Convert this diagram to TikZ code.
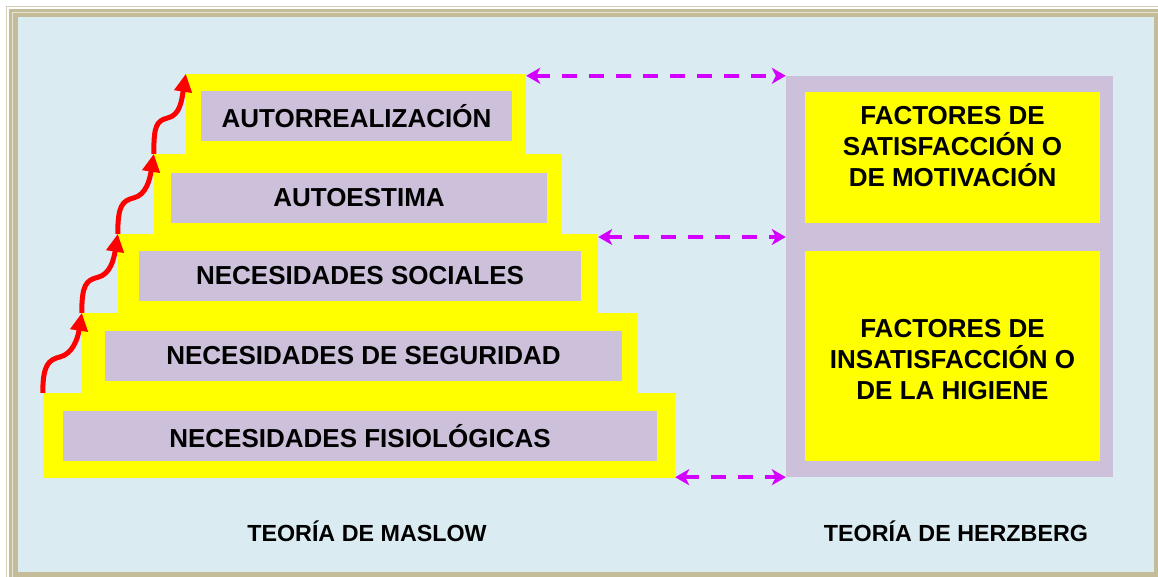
\documentclass[tikz,border=0pt]{standalone}
\usepackage{fontspec}
\setmainfont{Liberation Sans}
\usetikzlibrary{arrows.meta,calc}
\definecolor{fondo}{RGB}{218,236,242}
\definecolor{marco}{RGB}{196,187,152}
\definecolor{lila}{RGB}{205,192,218}
\definecolor{violeta}{RGB}{212,0,255}
\definecolor{amarillo}{RGB}{255,255,0}
\tikzset{
  escalon/.style={fill=amarillo, inner sep=0pt},
  nivel/.style={fill=lila, inner sep=0pt, minimum height=50pt, font=\fontsize{26}{31}\selectfont\bfseries},
  factor/.style={fill=amarillo, inner sep=0pt, minimum width=295pt},
  texto/.style={align=center, font=\fontsize{26}{31}\selectfont\bfseries},
  subida/.style={red, line width=5pt, -{Triangle[length=18pt,width=17pt]}},
  relacion/.style={violeta, line width=4pt, dash pattern=on 15pt off 12pt,
    {Stealth[length=14pt,width=16pt,inset=4pt]}-{Stealth[length=14pt,width=16pt,inset=4pt]}},
  titulo/.style={font=\fontsize{23.3}{28}\selectfont\bfseries}
}
\begin{document}
\begin{tikzpicture}[x=1pt,y=-1pt]
    \useasboundingbox (0,0) rectangle (1158,577);
    \fill[white] (0,0) rectangle (1158,577);
    \draw[marco!70, line width=1pt] (6.5,6.5) rectangle (1170,590);
    \fill[marco] (9,9) rectangle (1170,590);
    \draw[white!60!marco, line width=0.8pt] (12,12) rectangle (1170,590);
    \fill[fondo] (18,17) rectangle (1154,572);

    \node[escalon, minimum width=632pt, minimum height=85pt] (1) at (359,435.5) {};
    \node[escalon, minimum width=555pt, minimum height=80pt] (2) at (359.5,353) {};
    \node[escalon, minimum width=480pt, minimum height=79pt] (3) at (358,273.5) {};
    \node[escalon, minimum width=408pt, minimum height=80pt] (4) at (358,194) {};
    \node[escalon, minimum width=340pt, minimum height=80pt] (5) at (356,114) {};
    \node[nivel, minimum width=594pt] (p1) at (360,436) {NECESIDADES FISIOLÓGICAS};
    \node[nivel, minimum width=517pt] (p2) at (363.5,356) {NECESIDADES DE SEGURIDAD};
    \node[nivel, minimum width=442pt] (p3) at (360,275.5) {NECESIDADES SOCIALES};
    \node[nivel, minimum width=376pt] (p4) at (359,198) {AUTOESTIMA};
    \node[nivel, minimum width=311pt] (p5) at (356.5,116.5) {AUTORREALIZACIÓN};

    \node[fill=lila, inner sep=0pt, minimum width=327pt, minimum height=401pt] (h) at (949.5,276.5) {};
    \node[factor, minimum height=131pt] (h1) at (952.5,157.5) {};
    \node[factor, minimum height=210pt] (h2) at (952.5,356) {};
    \node[texto] (t1) at (952.5,147) {FACTORES DE\\SATISFACCIÓN O\\DE MOTIVACIÓN};
    \node[texto] (t2) at (952.5,360) {FACTORES DE\\INSATISFACCIÓN O\\DE LA HIGIENE};
    \coordinate (m) at ($(h1.south)!.5!(h2.north)$);

    \foreach \a/\b in {1/2,2/3,3/4,4/5}
        \draw[subida] (\a.north west) .. controls +(0,-28) and +(-12,3) .. ($(\a.north west)!.45!(\b.north west)$)
            .. controls +(12,-3) and +(-4,26) .. (\b.north west);

    \draw[relacion] (h.north west -| 5.east) -- (h.north west);
    \draw[relacion] (m -| 3.east) -- (m -| h.west);
    \draw[relacion] (h.south west -| 1.east) -- (h.south west);

    \node[titulo] (tm) at (367,531) {TEORÍA DE MASLOW};
    \node[titulo] (th) at (956,531) {TEORÍA DE HERZBERG};
\end{tikzpicture}
\end{document}
